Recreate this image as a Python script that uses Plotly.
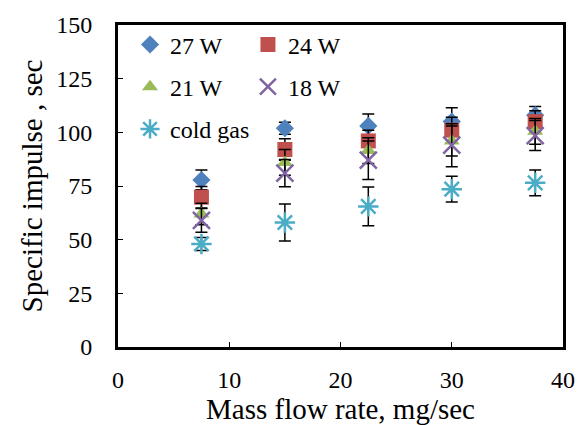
import plotly.graph_objects as go

mass_flow = [7.5, 15, 22.5, 30, 37.5]
isp_27w = [77.8, 101.9, 103.0, 105.0, 108.0]
isp_24w = [69.8, 92.0, 96.0, 101.0, 105.0]
isp_21w = [62.0, 86.0, 91.5, 96.0, 100.5]
isp_18w = [59.0, 81.0, 87.0, 94.0, 98.5]
isp_cold = [48.0, 58.0, 65.5, 73.5, 76.5]

err_27w = [4.6, 2.8, 5.5, 6.5, 4.0]
err_24w = [5.0, 5.0, 5.0, 6.0, 5.0]
err_21w = [5.0, 6.0, 6.0, 7.0, 6.0]
err_18w = [5.5, 6.3, 9.0, 10.0, 7.0]
err_cold = [3.0, 8.6, 9.0, 6.0, 6.0]

names = ["27 W", "24 W", "21 W", "18 W", "cold gas"]
y_tick_vals = [0, 25, 50, 75, 100, 125, 150]
x_tick_vals = [0, 10, 20, 30, 40]

series = [
    (names[0], isp_27w, err_27w, "diamond", "#4F81BD", 14, "legend"),
    (names[1], isp_24w, err_24w, "square", "#C0504D", 15, "legend2"),
    (names[2], isp_21w, err_21w, "triangle-up", "#9BBB59", 14, "legend"),
    (names[3], isp_18w, err_18w, "x-thin-open", "#8064A2", 17, "legend2"),
    (names[4], isp_cold, err_cold, "asterisk-open", "#4BACC6", 17, "legend"),
]

fig = go.Figure()
for i, (nm, ys, er, sym, col, sz, lg) in enumerate(series):
    fig.add_trace(go.Scatter(
        x=mass_flow, y=ys, name=nm, mode="markers",
        legend=lg, legendgroup=str(i),
        marker=dict(symbol=sym, color=col, size=sz,
                    line=dict(color=col, width=2.5 if "open" in sym else 0)),
        error_y=dict(type="data", array=er, visible=True,
                     color="black", thickness=1.5, width=6),
    ))

font = "Liberation Serif, Times New Roman, serif"
legend_common = dict(
    bgcolor="rgba(0,0,0,0)", borderwidth=0,
    font=dict(family=font, size=24, color="black"),
    orientation="v", traceorder="grouped", tracegroupgap=8,
    xanchor="left", yanchor="top",
)

fig.update_layout(
    width=579, height=425,
    margin=dict(l=118, r=16, t=25, b=78),
    plot_bgcolor="white", paper_bgcolor="white",
    font=dict(family=font, size=24, color="black"),
    showlegend=True,
    legend=dict(x=0.027, y=1.008, **legend_common),
    legend2=dict(x=0.292, y=1.008, **legend_common),
    xaxis=dict(
        range=[0, 40], tickvals=x_tick_vals, ticks="inside", ticklen=5,
        tickcolor="black", showgrid=False, zeroline=False,
        showline=True, linecolor="black", linewidth=3, mirror=True,
        title=dict(text="Mass flow rate, mg/sec", standoff=4),
        tickfont=dict(size=24), ticklabelstandoff=9, automargin=False,
    ),
    yaxis=dict(
        range=[0, 150], tickvals=y_tick_vals, ticks="inside", ticklen=5,
        tickcolor="black", showgrid=False, zeroline=False,
        showline=True, linecolor="black", linewidth=3, mirror=True,
        title=dict(text="Specific impulse , sec", standoff=6),
        tickfont=dict(size=24), ticklabelstandoff=18, automargin=False,
    ),
)

fig.write_html("out.html", config={"displayModeBar": False},
               post_script="document.body.style.margin='0px';")
